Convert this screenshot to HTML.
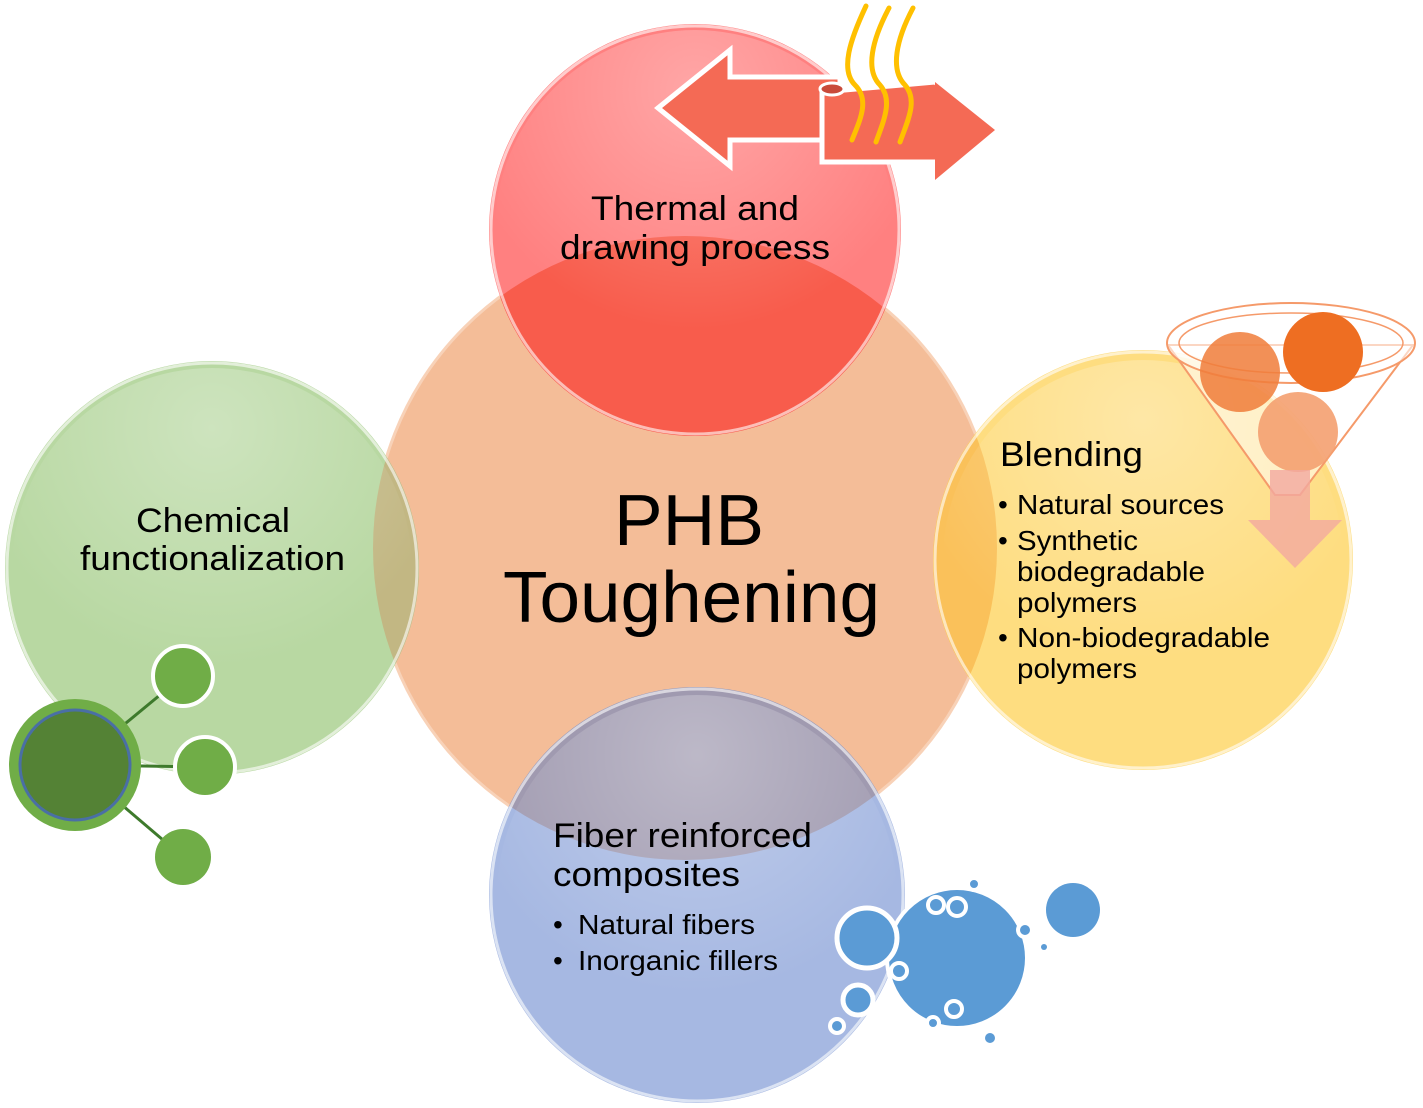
<!DOCTYPE html>
<html><head><style>
html,body{margin:0;padding:0;background:#fff;}
svg{display:block;font-family:"Liberation Sans",Arial,sans-serif;}
</style></head><body>
<svg width="1423" height="1108" viewBox="0 0 1423 1108">
<defs>
<radialGradient id="sh" cx="0.5" cy="0.15" r="0.6">
<stop offset="0" stop-color="#fff" stop-opacity="0.3"/><stop offset="1" stop-color="#fff" stop-opacity="0"/>
</radialGradient>
<clipPath id="cc"><circle cx="685" cy="548" r="312"/></clipPath>
</defs>
<!-- center -->
<circle cx="685" cy="548" r="312" fill="#F4BD98" stroke="#F8D2B8" stroke-width="3"/>
<circle cx="695" cy="230" r="206" fill="#FF8080"/>
<circle cx="212" cy="568" r="207" fill="#B8D8A2"/>
<circle cx="1143" cy="560" r="210" fill="#FEDD80"/>
<circle cx="697" cy="895" r="208" fill="#A6B8E2"/>
<g clip-path="url(#cc)">
<circle cx="695" cy="230" r="206" fill="#F85C4C"/>
<circle cx="212" cy="568" r="207" fill="#C2B783"/>
<circle cx="1143" cy="560" r="210" fill="#FAC15A"/>
<circle cx="697" cy="895" r="208" fill="#A09AB0"/>
</g>
<g fill="none" stroke="#fff" stroke-opacity="0.6" stroke-width="3">
<circle cx="695" cy="230" r="204"/><circle cx="212" cy="568" r="205"/>
<circle cx="1143" cy="560" r="208"/><circle cx="697" cy="895" r="206"/>
</g>
<circle cx="695" cy="230" r="200" fill="url(#sh)"/>
<circle cx="212" cy="568" r="200" fill="url(#sh)"/>
<circle cx="1143" cy="560" r="200" fill="url(#sh)"/>
<circle cx="697" cy="895" r="200" fill="url(#sh)"/>

<!-- thermal arrows -->
<polygon points="658,108 730,50 730,77 840,77 840,140 730,140 730,166" fill="#F46A55" stroke="#fff" stroke-width="5"/>
<path d="M822,92 L935,82 L935,82 L995,130 L935,180 L935,162 L822,162 Z" fill="#F46A55" stroke="#fff" stroke-width="5"/>
<polygon points="935,82 995,130 935,180" fill="#F46A55"/>
<ellipse cx="832" cy="89" rx="12" ry="6" fill="#C94A3A" stroke="#fff" stroke-width="3"/>
<g fill="none" stroke="#FFC000" stroke-width="5" stroke-linecap="round">
<path d="M866,6 C850,40 840,70 855,85 C870,100 860,120 852,140"/>
<path d="M889,8 C872,40 865,70 880,85 C893,100 884,120 876,142"/>
<path d="M913,8 C896,40 890,70 905,85 C918,100 908,120 900,142"/>
</g>

<!-- funnel -->
<polygon points="1168,345 1413,345 1300,495 1275,495" fill="#fff" fill-opacity="0.5" stroke="#F59A6A" stroke-width="2"/>
<ellipse cx="1291" cy="343" rx="124" ry="40" fill="#fff" fill-opacity="0.6" stroke="#F59A6A" stroke-width="2"/>
<ellipse cx="1291" cy="343" rx="112" ry="30" fill="none" stroke="#F59A6A" stroke-width="1.5"/>
<circle cx="1240" cy="372" r="40" fill="#F07D3A" fill-opacity="0.85"/>
<circle cx="1323" cy="352" r="40" fill="#EE6E22"/>
<circle cx="1298" cy="432" r="40" fill="#F4A070" fill-opacity="0.9"/>
<polygon points="1270,470 1310,470 1310,520 1342,520 1295,568 1248,520 1270,520" fill="#F2A9A0" fill-opacity="0.8"/>

<!-- molecule -->
<g stroke="#3E7A2C" stroke-width="3"><line x1="75" y1="765" x2="183" y2="676"/><line x1="75" y1="765" x2="205" y2="767"/><line x1="75" y1="765" x2="183" y2="857"/></g>
<circle cx="183" cy="676" r="30" fill="#70AD47" stroke="#fff" stroke-width="4"/>
<circle cx="205" cy="767" r="30" fill="#70AD47" stroke="#fff" stroke-width="4"/>
<circle cx="183" cy="857" r="28" fill="#70AD47"/>
<circle cx="75" cy="765" r="66" fill="#70AD47"/>
<circle cx="75" cy="765" r="55" fill="#548235" stroke="#4A6FA5" stroke-width="3"/>

<!-- bubbles -->
<circle cx="957" cy="958" r="70" fill="#5B9BD5" stroke="#fff" stroke-width="4"/>
<circle cx="867" cy="938" r="30" fill="#5B9BD5" stroke="#fff" stroke-width="5"/>
<circle cx="1073" cy="910" r="27" fill="#5B9BD5"/>
<circle cx="858" cy="1000" r="15" fill="#5B9BD5" stroke="#fff" stroke-width="5"/>
<circle cx="837" cy="1026" r="7" fill="#5B9BD5" stroke="#fff" stroke-width="4"/>
<g fill="#5B9BD5" stroke="#fff" stroke-width="4">
<circle cx="936" cy="905" r="8"/><circle cx="957" cy="907" r="9"/><circle cx="899" cy="971" r="8"/>
<circle cx="954" cy="1009" r="8"/><circle cx="1025" cy="930" r="7"/><circle cx="933" cy="1023" r="6"/><circle cx="974" cy="884" r="6"/>
</g>
<circle cx="1044" cy="947" r="3" fill="#5B9BD5"/><circle cx="990" cy="1038" r="5" fill="#5B9BD5"/>

<!-- text -->
<g fill="#000">
<text x="614" y="545" font-size="72" textLength="150" lengthAdjust="spacingAndGlyphs">PHB</text>
<text x="503" y="622" font-size="72" textLength="377" lengthAdjust="spacingAndGlyphs">Toughening</text>
<text x="591" y="220" font-size="34" textLength="208" lengthAdjust="spacingAndGlyphs">Thermal and</text>
<text x="560" y="259" font-size="34" textLength="270" lengthAdjust="spacingAndGlyphs">drawing process</text>
<text x="136" y="532" font-size="34" textLength="154" lengthAdjust="spacingAndGlyphs">Chemical</text>
<text x="80" y="570" font-size="34" textLength="265" lengthAdjust="spacingAndGlyphs">functionalization</text>
<text x="1000" y="466" font-size="34" textLength="143" lengthAdjust="spacingAndGlyphs">Blending</text>
<g font-size="28">
<text x="998" y="514">•</text><text x="1017" y="514" textLength="207" lengthAdjust="spacingAndGlyphs">Natural sources</text>
<text x="998" y="550">•</text><text x="1017" y="550" textLength="121" lengthAdjust="spacingAndGlyphs">Synthetic</text>
<text x="1017" y="581" textLength="188" lengthAdjust="spacingAndGlyphs">biodegradable</text>
<text x="1017" y="612" textLength="120" lengthAdjust="spacingAndGlyphs">polymers</text>
<text x="998" y="647">•</text><text x="1017" y="647" textLength="253" lengthAdjust="spacingAndGlyphs">Non-biodegradable</text>
<text x="1017" y="678" textLength="120" lengthAdjust="spacingAndGlyphs">polymers</text>
</g>
<text x="553" y="847" font-size="34" textLength="259" lengthAdjust="spacingAndGlyphs">Fiber reinforced</text>
<text x="553" y="886" font-size="34" textLength="187" lengthAdjust="spacingAndGlyphs">composites</text>
<g font-size="28">
<text x="553" y="934">•</text><text x="578" y="934" textLength="177" lengthAdjust="spacingAndGlyphs">Natural fibers</text>
<text x="553" y="970">•</text><text x="578" y="970" textLength="200" lengthAdjust="spacingAndGlyphs">Inorganic fillers</text>
</g>
</g>
</svg>
</body></html>
